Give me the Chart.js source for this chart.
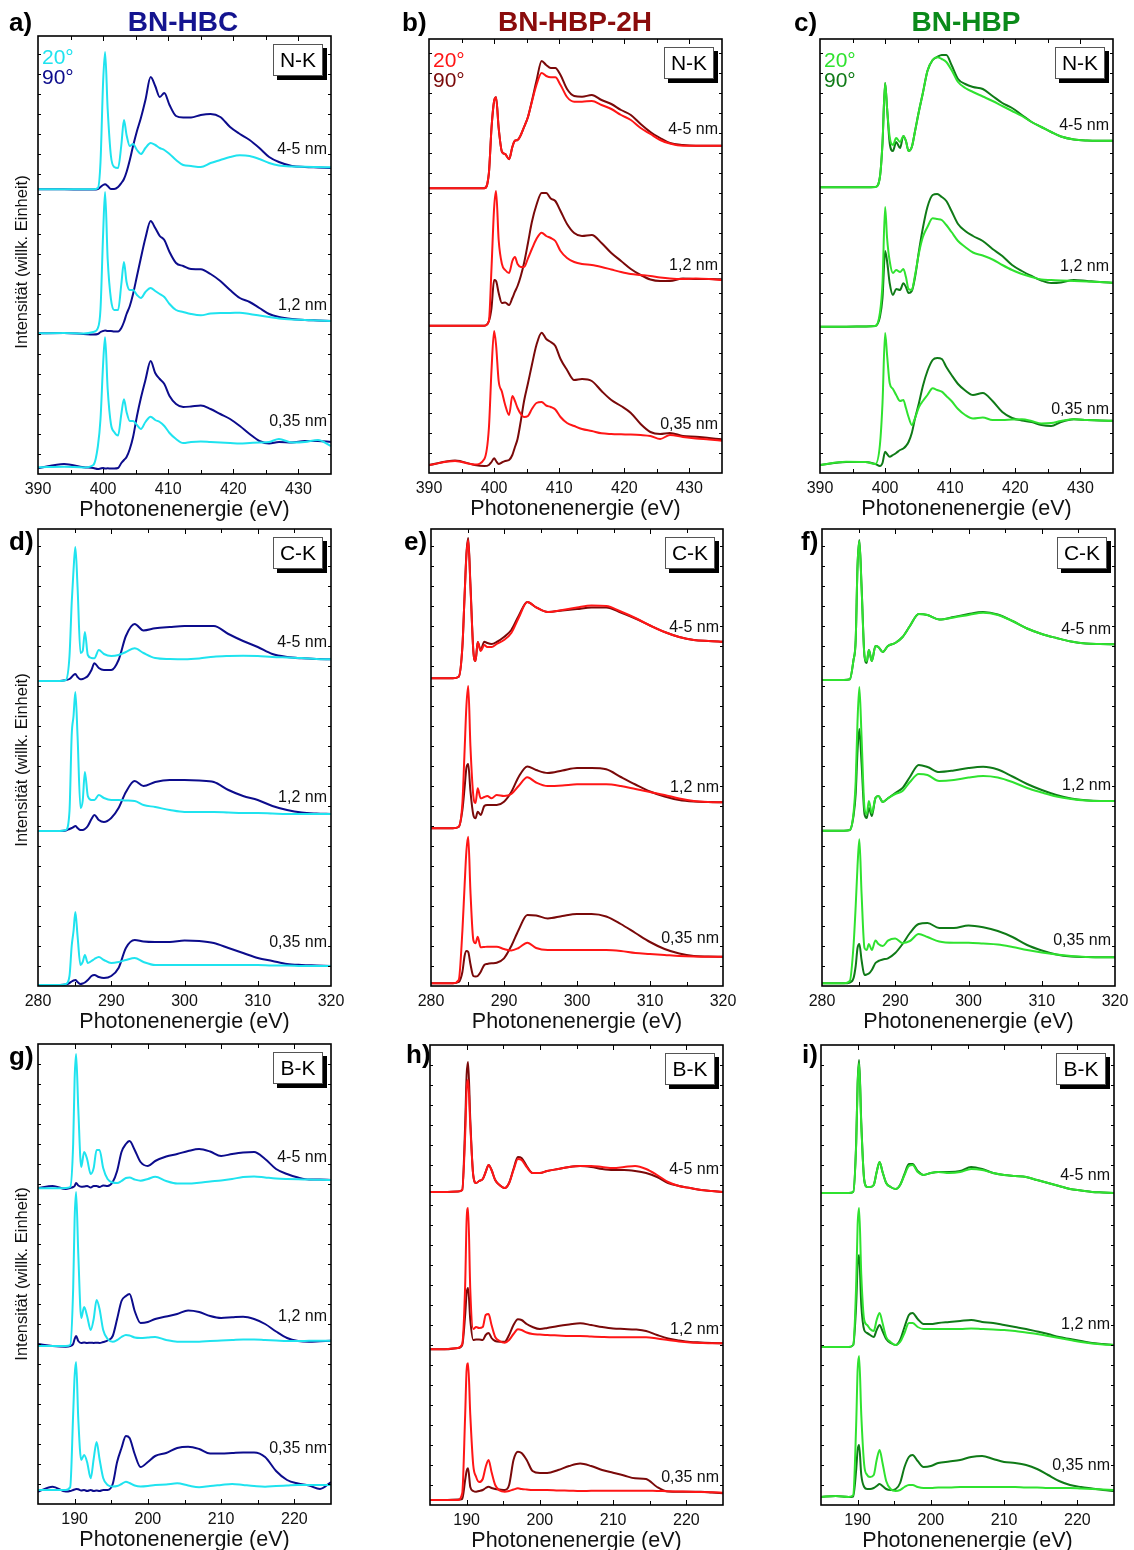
<!DOCTYPE html>
<html lang="de">
<head>
<meta charset="utf-8">
<title>NEXAFS BN-HBC / BN-HBP-2H / BN-HBP</title>
<script src="https://cdn.jsdelivr.net/npm/chart.js@4.4.1/dist/chart.umd.min.js"></script>
<style>
  body { margin: 0; background: #fff; font-family: "Liberation Sans", Arial, Helvetica, sans-serif; }
  #page { position: relative; width: 1134px; height: 1550px; overflow: hidden; background: #fff; }
  #page canvas, .txt { position: absolute; }
  .txt { line-height: 1; white-space: nowrap; color: #000; }
  .letter { font-weight: bold; font-size: 26px; }
  .title { font-weight: bold; font-size: 28px; transform: translateX(-50%); }
  .ytitle { font-size: 16.5px; transform: translate(-50%, -50%) rotate(-90deg); color: #111; }
  .angle { font-size: 21px; }
  .edge { background: #fff; border: 1px solid #555; box-shadow: 4px 4px 0 #000; font-size: 21px;
          width: 48px; height: 30px; line-height: 30px; text-align: center; }
</style>
</head>
<body>
<div id="page"></div>
<script>
// energy grids (eV) and tick labels for the three absorption edges
const nkEnergy = [390, 394, 397, 398.5, 399.2, 399.6, 400.0, 400.3, 400.7, 401.2, 401.7, 402.3, 402.8, 403.2, 403.6, 404.1, 404.6, 405.2, 405.8, 406.5, 407.3, 408.0, 408.7, 409.4, 410.2, 411.2, 412.3, 413.5, 415, 416.5, 418, 419.5, 421, 422.5, 424, 425.5, 427, 429, 431, 433, 435];
const ckEnergy = [280, 283, 283.8, 284.3, 284.6, 284.85, 285.1, 285.4, 285.8, 286.1, 286.4, 286.8, 287.3, 287.7, 288.3, 289, 290, 291, 292, 293.2, 294.4, 296, 298, 300, 302, 304, 306, 308, 310, 312, 314, 316, 318, 320];
const bkEnergy = [185, 187, 188.8, 189.4, 189.8, 190.0, 190.2, 190.5, 190.9, 191.3, 191.7, 192.2, 192.6, 193.0, 193.4, 193.9, 194.5, 195.2, 195.8, 196.4, 197.0, 197.5, 198.2, 199.0, 200, 201, 202.5, 204, 205.5, 207, 208.5, 210, 211.5, 213, 214.5, 216, 217.5, 219, 220.5, 222, 223.5, 225];
const nkTicks = [390, 400, 410, 420, 430];
const ckTicks = [280, 290, 300, 310, 320];
const bkTicks = [190, 200, 210, 220];
const thickness = ['4-5 nm', '1,2 nm', '0,35 nm'];

// BN-HBC, N-K edge (intensity incl. vertical offset, arb. units)
const hbcN45_20 = [284.7, 284.7, 284.7, 284.7, 286, 312, 392, 422, 365, 318, 307, 306, 329, 354, 339, 328, 330, 324, 320, 326, 331, 329, 326, 324, 320, 314, 309, 308, 307, 311, 314, 317, 318.7, 318, 315, 311, 308.5, 307.5, 307.3, 307, 306.7];
const hbcN45_90 = [284.7, 284.7, 284.5, 284.5, 285, 287, 289, 289.7, 288, 285, 285, 287, 291, 295, 302, 314, 328, 343, 356, 374, 397, 388, 377, 381, 369, 358, 356.5, 356.5, 359, 360, 357, 347, 340, 334, 326, 317, 312, 308, 307, 306.5, 306];
const hbcN12_20 = [140.7, 141, 140.5, 142, 146, 165, 240, 282, 215, 175, 164, 164, 190, 212, 192, 184, 184, 179, 176, 182, 186, 183, 180, 177, 170, 164, 162, 160, 158.7, 160.5, 161, 161, 161.3, 160, 158.5, 157, 155.5, 154.5, 154, 153.5, 153];
const hbcN12_90 = [140.7, 141, 140, 139.5, 140, 142, 143, 143.5, 143, 143, 142.5, 142.5, 146, 152, 160, 168, 180, 198, 216, 236, 253, 246, 238, 234, 222, 211, 208, 205, 204.7, 200, 193, 184, 176, 172, 166, 160, 157, 155, 154, 153.5, 153];
const hbcN035_20 = [6.7, 7.3, 6.5, 9, 28, 55, 110, 136.7, 85, 50, 42, 38.5, 60, 74.7, 62, 53, 53, 49, 45, 52, 57.3, 54, 52, 48, 41, 35, 31, 32, 32.5, 32, 31.5, 31, 30.5, 31, 31.5, 32, 35, 31.5, 32, 34, 28];
const hbcN035_90 = [5.7, 10, 6.7, 6, 5, 5.5, 6, 5.5, 5.7, 5.5, 5.5, 6, 11, 14, 17, 25, 37, 58, 76, 94, 113, 101, 95, 90, 78, 70, 67, 67.5, 68.5, 65, 60, 55, 48, 40, 33, 30.5, 32, 31.5, 33, 33, 32];

// BN-HBP-2H, N-K edge
const hbp2hN45_20 = [284.7, 284.7, 284.7, 284.7, 300, 345, 372, 375.7, 345, 321.3, 319, 313.7, 326, 332.3, 333, 338, 346, 356, 371, 388, 400, 397, 395.7, 395.7, 388, 376, 371.3, 371.3, 372, 368, 364, 358, 353, 345, 339, 333, 329.5, 327.3, 327.3, 327.3, 327.3];
const hbp2hN45_90 = [284.7, 284.7, 284.7, 284.7, 300, 345, 372, 375.7, 345, 321.3, 319, 313.7, 326, 332.3, 333, 338, 346, 356, 372, 392, 412, 408, 405, 405, 398, 384, 377, 376.3, 378, 373, 369, 363, 358, 349, 341, 335, 330, 328, 327.3, 327.3, 327.3];
const hbp2hN12_20 = [147.3, 147.3, 147.3, 147.3, 152, 205, 265, 282, 233, 209, 203, 200, 212, 216, 209, 206, 206, 214.7, 224, 234, 240.3, 237, 235, 232, 222, 215, 211, 209, 208, 206, 203.5, 201, 199, 198, 197, 195.5, 194.5, 194, 194.5, 194, 193];
const hbp2hN12_90 = [147.3, 147.3, 147.3, 147.3, 152, 165, 193, 192, 180, 170, 170.5, 168, 175, 181.3, 187, 197, 210, 230, 251, 268, 280, 280, 274.5, 272, 262, 249, 240, 237, 238, 230, 220, 212, 204, 198, 193.5, 192, 192, 194.5, 194, 194, 193.7];
const hbp2hN035_20 = [8, 12, 8.5, 14, 45, 103, 142, 128, 92, 81.3, 68, 58, 77, 72, 65, 59, 56, 57, 64, 70, 71, 67.5, 66, 63.5, 56, 50, 47, 44, 42, 39.7, 39, 38.7, 38.5, 38, 37, 34, 38, 36, 34.5, 33.5, 32.3];
const hbp2hN035_90 = [8, 12.5, 8, 7, 8, 11, 14.7, 12, 9, 10.5, 12, 13, 18, 26, 34, 52, 72, 89.7, 108, 128, 140.3, 134, 131, 127, 114, 103, 93, 94, 92, 82, 73, 67, 60, 49, 41, 39, 40, 37, 36.3, 35, 33.7];

// BN-HBP, N-K edge
const hbpN45_20 = [285.7, 285.7, 285.7, 286, 296, 330, 390, 365, 336, 328, 335, 331, 337, 332, 322, 326, 342, 362, 380, 402, 413, 415.7, 414, 411, 403, 391, 385, 381, 376.5, 372, 367, 362, 357, 351, 346, 341, 336.5, 333.5, 332.5, 332.3, 332.3];
const hbpN45_90 = [285.7, 285.7, 285.7, 286, 296, 330, 390, 365, 330, 322, 331, 325, 337, 332, 322, 326, 342, 362, 380, 402, 413, 416, 418, 418, 408, 394, 389, 386, 384, 377, 370, 365, 358, 351, 346, 341, 336.5, 333.5, 332.5, 332.3, 332.3];
const hbpN12_20 = [146.3, 146.3, 146.5, 147, 160, 190, 266, 235, 212, 200, 203, 201, 204, 196, 184, 183, 198, 220, 236, 246, 254.7, 254, 253, 248, 241, 232, 226, 220.5, 217.5, 213.5, 208, 203, 199, 196, 193.5, 193, 192.5, 192, 191.5, 191, 190.3];
const hbpN12_90 = [146.3, 146.3, 146.5, 147, 156, 175, 222, 212, 190, 178, 184, 183, 189.7, 186, 180, 182, 196, 222, 245, 266, 278, 279, 276, 272, 262, 249, 242, 237, 232, 224, 217, 208, 202, 197, 192.5, 190, 190.5, 193, 192, 191, 190.3];
const hbpN035_20 = [8, 11.3, 11, 9, 28, 70, 140, 118, 90, 84, 78, 72, 73, 65, 56, 48, 55, 66, 72, 78, 84.7, 83, 81.3, 77, 72, 64, 58, 54.5, 55.5, 53, 53, 53.5, 53.7, 52, 49.5, 50, 52, 53.7, 53, 52.5, 52.3];
const hbpN035_90 = [8, 11, 11, 9, 7, 10, 21.3, 19, 16.3, 18, 20, 23, 24.5, 27, 31, 40, 54.7, 70, 87, 102, 113, 115, 114, 106, 98, 89, 82.5, 78, 80, 72, 61, 55, 52.5, 51, 48, 47, 51, 53.7, 53, 52.5, 52.3];

// BN-HBC, C-K edge
const hbcC45_20 = [305, 305, 306, 330, 383, 416, 439, 399, 333, 335, 354, 331, 328, 327.7, 336, 332, 330, 331, 334, 337.7, 333, 328, 327, 326.7, 327.5, 329.3, 330, 330.3, 330, 329, 328.5, 328, 327, 326.7];
const hbcC45_90 = [305, 305, 306, 307, 309, 311, 312, 309, 306.7, 307, 308, 310, 316, 322.7, 318, 316, 316, 326, 350, 362, 355.5, 357.7, 359, 360, 360, 360, 352, 345, 339, 332, 329, 327.7, 327, 326.7];
const hbcC12_20 = [155, 155, 156, 175, 251, 270, 294, 250, 178, 185, 214, 190, 186, 186, 191, 188, 186, 186, 185.5, 185, 181, 179, 176, 174, 174, 174, 173.5, 173, 173, 172.5, 172, 172, 172, 172];
const hbcC12_90 = [155, 155, 155.5, 157, 158, 159, 160, 158, 156, 156, 157, 160, 167, 171, 166, 164, 168, 178, 194, 205, 200, 204, 206, 206, 205.5, 204, 196, 190, 186, 180, 176, 173.5, 172.5, 172];
const hbcC035_20 = [1, 1, 2, 10, 40, 55, 74, 50, 21, 24, 31, 23, 25, 27, 29, 26, 23, 24, 26, 28, 24, 21, 21, 21, 21, 21, 21, 21, 21, 20.5, 20.5, 20, 20, 20];
const hbcC035_90 = [1, 1, 1.5, 3, 4.5, 5.5, 6, 4, 2, 2.5, 3.5, 6, 10, 11, 9, 8, 10, 18, 38, 46, 44.5, 44, 44, 45.5, 45, 43, 38, 33, 28, 25, 22, 21, 20.5, 20];

// BN-HBP-2H, C-K edge
const hbp2hC45_20 = [307.7, 307.7, 309.3, 339.3, 390, 430, 446, 400, 335, 325, 344, 335, 341, 339, 339, 342, 346, 353, 368, 384, 378.7, 374, 376, 378.5, 380.5, 380, 374.5, 368, 360.5, 354, 349, 346, 345, 344.3];
const hbp2hC45_90 = [307.7, 307.7, 309.3, 339.3, 390, 432, 448, 402, 335, 325, 344, 336, 344.3, 343, 342, 344, 349, 356, 370, 384, 378.7, 374, 375.5, 377, 378.5, 378.5, 373.5, 367.5, 360.5, 354, 349, 346, 345, 344.3];
const hbp2hC12_20 = [157.7, 157.7, 159.3, 183, 235, 280, 300, 240, 190, 183, 197.7, 187.7, 189, 190, 187.7, 191, 190, 192, 200, 208.7, 203.5, 200, 200.5, 201.7, 201.7, 201.7, 200, 197, 194, 191, 187.5, 185, 184, 183.7];
const hbp2hC12_90 = [157.7, 157.7, 159, 176, 198, 218, 222, 195, 171, 167.7, 174.3, 171, 180, 181, 181, 181, 184.3, 194, 209, 219.5, 216, 213, 215.5, 218, 218, 216.7, 209, 201.5, 194.5, 189.5, 186, 184.5, 184, 183.7];
const hbp2hC035_20 = [2.7, 2.7, 6, 55, 100, 135, 149.3, 95, 46, 42.7, 49.3, 38.7, 39, 39.3, 39.3, 39.3, 37, 35.5, 38, 43.3, 38, 36, 36, 36, 36, 36, 35, 33, 32, 31, 30, 29.5, 29.3, 29.3];
const hbp2hC035_90 = [2.7, 2.7, 4, 14, 30, 35, 34, 22, 10, 9.5, 10, 14, 21, 22, 22.7, 23.3, 27.7, 40, 56, 71, 70.5, 67.5, 70, 72, 72, 69.5, 62, 53, 44, 37, 32.5, 30, 29.5, 29.3];

// BN-HBP, C-K edge
const hbpC45_20 = [306, 306, 306.7, 326, 346, 420, 445, 399, 330, 325, 336, 325, 340, 339, 334, 340, 343, 349, 360, 372, 371, 366.5, 368.5, 371, 373.3, 371, 365, 357.5, 352, 348, 344.5, 342.5, 342, 341.7];
const hbpC45_90 = [306, 306, 306.7, 326, 346, 420, 446, 400, 330, 323, 336, 325, 340, 339, 334, 340, 343, 349, 360, 372, 371, 366.5, 369, 372, 374, 371.5, 365, 357.5, 352, 348, 344.5, 342.5, 342, 341.7];
const hbpC12_20 = [155.3, 155.3, 156, 172.7, 205, 265, 299, 249, 178, 172, 185, 173, 188, 190, 184, 187.7, 192, 195, 204, 212, 211, 205, 206, 208.5, 210, 208.5, 204, 198, 193.5, 189.5, 187, 185.5, 185, 185];
const hbpC12_90 = [155.3, 155.3, 156, 170, 192, 235, 257, 222.7, 172, 168, 178, 170, 188, 190, 184, 187.7, 193, 198, 209, 221, 219, 214, 215.5, 218, 219.3, 216.5, 209.5, 202, 196, 191, 187.5, 185.7, 185, 185];
const hbpC035_20 = [2.7, 2.7, 5, 40, 80, 120, 146.7, 92.7, 38, 36, 42, 36, 45.5, 42, 40, 45.3, 47.5, 43, 45, 52, 49, 44.5, 43.3, 43.3, 42.5, 41.5, 39, 36, 33.5, 31.5, 30, 29, 28.7, 28.7];
const hbpC035_90 = [2.7, 2.7, 3.5, 7.7, 20, 38, 42, 26, 11, 11.5, 12.5, 16, 23, 25, 26.5, 27.7, 33, 42, 53, 62, 63, 58, 58, 60.5, 58.7, 55, 49, 41, 35.5, 31.5, 29.5, 29, 28.7, 28.7];

// BN-HBC, B-K edge
const hbcB45_20 = [315.7, 315.7, 316, 317, 360, 425, 450, 395, 337, 352, 345, 330, 336, 354, 354, 336, 325, 321.5, 321, 323, 326, 326.5, 324.5, 323.3, 325, 327.3, 323, 320.5, 320.5, 321.3, 322.5, 323.5, 325, 327, 327.5, 326.5, 325.5, 325, 324.7, 324.5, 324.2, 324];
const hbcB45_90 = [316, 318, 315, 316, 317, 318, 321, 318.5, 317.3, 317.5, 318, 316.5, 318, 318, 317, 318.5, 318, 322, 333, 352, 360, 363, 354, 342, 338, 343, 347.5, 350, 353, 355, 352.5, 348, 350, 351.5, 352, 345, 335, 330, 326.5, 324.5, 324.5, 324];
const hbcB12_20 = [158, 158, 158, 159, 215, 285, 312, 250, 186, 197, 188, 174, 185, 204, 195, 174, 165, 162.3, 164, 167, 169, 168.5, 166.5, 166, 166.5, 167, 164, 162.3, 162.3, 162.3, 163, 163.5, 164, 164.5, 164.5, 164, 163.5, 163, 163, 163.2, 163.3, 163.3];
const hbcB12_90 = [160, 158, 157.3, 158, 160, 165, 168, 163, 161, 161.5, 161, 161.3, 161, 161.3, 161, 162, 163.5, 168, 185, 203, 208, 210, 193, 181, 182, 185, 187.5, 190, 193.5, 192, 188, 186, 186.7, 187.3, 185, 180, 172.5, 166, 163, 162.3, 162.8, 163.3];
const hbcB035_20 = [14, 14, 14, 17, 90, 128, 142, 85, 44, 49, 42, 25.7, 45, 62, 45, 26, 19, 17.5, 18, 20, 22.3, 21, 18.5, 17.5, 18, 19, 19.5, 20.7, 18.5, 16.7, 18, 19, 20, 19, 18, 17.3, 18, 18.5, 19, 19, 19, 19];
const hbcB035_90 = [12.3, 17.3, 12.5, 13, 14, 14.5, 15, 14.7, 13.5, 14, 13, 14, 13, 13.5, 13, 14, 14, 20, 42, 56, 68, 66, 50, 37, 42, 48, 51, 56, 57.3, 55, 50.5, 50.5, 51, 51.5, 51.5, 47, 33, 24, 20.5, 18.5, 15, 22];

// BN-HBP-2H, B-K edge
const hbp2hB45_20 = [313, 313, 313.5, 315, 370, 415, 425, 380, 330, 322, 324, 326, 333, 340, 335, 325, 320, 317, 322, 335, 346, 345, 338, 332, 332, 334, 336, 338, 339, 339, 338, 337, 338, 339, 336, 330, 323, 319, 317, 315, 314, 313];
const hbp2hB45_90 = [313, 313, 313.5, 315, 380, 430, 443, 385, 330, 322, 324, 326, 333, 340, 335, 325, 320, 317, 322, 336, 348, 347, 339, 332, 332, 334, 336, 338, 339, 338, 336, 335, 335, 334, 332, 328, 322, 319, 317, 315, 314, 313];
const hbp2hB12_20 = [155.7, 155.7, 157, 161, 220, 285, 297, 215, 176, 178, 177, 178, 190, 191, 180, 168, 164, 162.3, 165, 171, 175.7, 175, 172.5, 171, 170.5, 170, 169.5, 169, 169, 168.5, 168, 167.7, 167.7, 167.7, 167.7, 166.5, 165, 163.5, 162.5, 162, 161.7, 161.7];
const hbp2hB12_90 = [155.7, 155.7, 157, 160, 190, 212, 217, 185, 165, 165.5, 165.5, 165, 170, 172, 167, 164, 163.3, 163.3, 170, 180, 185.7, 185, 181, 178, 176, 177, 179, 180.5, 181.7, 180, 178, 176.5, 176, 175.5, 174, 170, 166.5, 164.5, 163, 162.5, 162, 161.7];
const hbp2hB035_20 = [5, 5, 5, 11.7, 90, 135, 141.7, 90, 40, 28, 23, 26, 38, 45, 33, 20, 14.5, 13.3, 14, 15.5, 16.7, 16, 15.5, 15, 15, 15, 14.5, 14.3, 14, 14.2, 14.3, 14.3, 14.3, 14.3, 14.3, 14, 13.8, 13.5, 13.2, 13, 12.7, 12.3];
const hbp2hB035_90 = [5, 5, 5.5, 6, 25, 34, 36.7, 18, 14, 13.3, 14, 15, 17, 18.3, 17, 16, 15.5, 15, 20, 45, 53.3, 52, 45, 34, 32, 32, 35, 39, 41.5, 39, 35, 32.3, 29.5, 26.7, 26, 18, 13.5, 13.3, 13.3, 13.3, 12.5, 11.7];

// BN-HBP, B-K edge
const hbpB45_20 = [312, 312, 312, 313, 360, 420, 442, 380, 325, 318, 318, 320, 333, 343, 333, 322, 318, 316, 320, 330, 339, 340, 333, 330, 332, 333, 332, 333, 336, 335, 332, 330, 329, 328, 325, 322, 319, 316, 314.5, 313, 312.5, 312];
const hbpB45_90 = [312, 312, 312, 313, 362, 422, 445, 382, 325, 318, 318, 320, 333, 343, 333, 322, 318, 316, 320, 331, 341, 341, 334, 330, 332, 333, 333, 334, 338, 336, 332, 330, 329, 328, 325, 322, 319, 316, 314.5, 313, 312.5, 312];
const hbpB12_20 = [158, 158, 158, 160, 220, 280, 297, 230, 185, 180, 176, 174, 185, 192, 182, 168, 163, 160, 163, 172, 182, 182, 178, 176, 176, 176, 176, 176, 176.5, 176, 175.5, 175, 174, 172.5, 171, 169, 167, 165, 163, 161.5, 160.5, 160];
const hbpB12_90 = [158, 158, 158, 160, 200, 240, 250, 200, 175, 172, 170, 168, 175, 180, 174, 166, 162, 160, 165, 178, 190, 192, 186, 181, 181, 182, 183, 184, 185, 183, 182, 180, 178, 176, 173.5, 171, 168, 166, 164, 162, 161, 160];
const hbpB035_20 = [8, 9, 8, 10, 80, 135, 149, 90, 40, 30, 28, 30, 45, 55, 42, 24, 16, 14, 15, 18, 20, 20, 18, 17, 17, 17.5, 17.5, 18, 18, 18, 18, 18, 18, 17.5, 17.5, 17, 17, 17, 16.5, 16, 15.5, 15];
const hbpB035_90 = [8, 9, 8, 8.5, 35, 55, 60, 30, 18, 16, 16, 17, 19, 21, 19, 16, 15, 16, 22, 38, 48, 50, 44, 38, 39, 42, 43.5, 45, 48, 49, 46, 43, 42, 40, 36, 30, 24, 20, 18, 16.5, 15, 14];

const FONT = '"Liberation Sans", Arial, Helvetica, sans-serif';
const hbcColors = ['#1fe3ef', '#0c0c8c'];
const hbp2hColors = ['#ff1616', '#7a0909'];
const hbpColors = ['#2fe22f', '#0f7a17'];

// plot boxes are [left, top, right, bottom] in page pixels
const panels = [
  { letter: 'a)', at: [9, 22], edge: 'N-K', energy: nkEnergy, ticks: nkTicks, box: [38, 36, 331, 474], colors: hbcColors,
    curves: [[hbcN45_20, hbcN45_90], [hbcN12_20, hbcN12_90], [hbcN035_20, hbcN035_90]], tagY: [324, 168, 52], legend: true },
  { letter: 'b)', at: [402, 22], edge: 'N-K', energy: nkEnergy, ticks: nkTicks, box: [429, 39, 722, 473], colors: hbp2hColors,
    curves: [[hbp2hN45_20, hbp2hN45_90], [hbp2hN12_20, hbp2hN12_90], [hbp2hN035_20, hbp2hN035_90]], tagY: [343, 207, 48], legend: true },
  { letter: 'c)', at: [794, 22], edge: 'N-K', energy: nkEnergy, ticks: nkTicks, box: [820, 39, 1113, 473], colors: hbpColors,
    curves: [[hbpN45_20, hbpN45_90], [hbpN12_20, hbpN12_90], [hbpN035_20, hbpN035_90]], tagY: [347, 206, 63], legend: true },
  { letter: 'd)', at: [9, 541], edge: 'C-K', energy: ckEnergy, ticks: ckTicks, box: [38, 529, 331, 986], colors: hbcColors,
    curves: [[hbcC45_20, hbcC45_90], [hbcC12_20, hbcC12_90], [hbcC035_20, hbcC035_90]], tagY: [343, 188, 43] },
  { letter: 'e)', at: [404, 541], edge: 'C-K', energy: ckEnergy, ticks: ckTicks, box: [431, 529, 723, 986], colors: hbp2hColors,
    curves: [[hbp2hC45_20, hbp2hC45_90], [hbp2hC12_20, hbp2hC12_90], [hbp2hC035_20, hbp2hC035_90]], tagY: [358, 198, 47] },
  { letter: 'f)', at: [801, 541], edge: 'C-K', energy: ckEnergy, ticks: ckTicks, box: [822, 529, 1115, 986], colors: hbpColors,
    curves: [[hbpC45_20, hbpC45_90], [hbpC12_20, hbpC12_90], [hbpC035_20, hbpC035_90]], tagY: [356, 200, 45] },
  { letter: 'g)', at: [9, 1056], edge: 'B-K', energy: bkEnergy, ticks: bkTicks, box: [38, 1044, 331, 1504], colors: hbcColors,
    curves: [[hbcB45_20, hbcB45_90], [hbcB12_20, hbcB12_90], [hbcB035_20, hbcB035_90]], tagY: [346, 187, 55] },
  { letter: 'h)', at: [406, 1054], edge: 'B-K', energy: bkEnergy, ticks: bkTicks, box: [430, 1045, 723, 1505], colors: hbp2hColors,
    curves: [[hbp2hB45_20, hbp2hB45_90], [hbp2hB12_20, hbp2hB12_90], [hbp2hB035_20, hbp2hB035_90]], tagY: [335, 175, 27] },
  { letter: 'i)', at: [802, 1054], edge: 'B-K', energy: bkEnergy, ticks: bkTicks, box: [821, 1045, 1114, 1505], colors: hbpColors,
    curves: [[hbpB45_20, hbpB45_90], [hbpB12_20, hbpB12_90], [hbpB035_20, hbpB035_90]], tagY: [329, 180, 39] }
];

const columnTitles = [
  { text: 'BN-HBC', x: 183, color: '#14148f' },
  { text: 'BN-HBP-2H', x: 575, color: '#8a0c0c' },
  { text: 'BN-HBP', x: 966, color: '#0b8a1a' }
];
const yTitleRows = [262, 760, 1274];

const PAD_L = 22, PAD_R = 22, PAD_T = 6, AXIS_H = 49;
const page = document.getElementById('page');

// closed frame, inward ticks on all four sides and the thickness tags
const framePlugin = {
  id: 'frame',
  afterDatasetsDraw(chart, args, opts) {
    const { ctx, chartArea: a, scales: { x, y } } = chart;
    ctx.save();
    ctx.strokeStyle = '#000';
    ctx.lineWidth = 1;
    for (let v = Math.ceil(x.min / 5) * 5; v < x.max; v += 5) {
      if (v <= x.min) continue;
      const px = Math.round(x.getPixelForValue(v)) + 0.5;
      const len = v % 10 === 0 ? 5 : 4;
      ctx.beginPath();
      ctx.moveTo(px, a.bottom); ctx.lineTo(px, a.bottom - len);
      ctx.moveTo(px, a.top); ctx.lineTo(px, a.top + len);
      ctx.stroke();
    }
    for (let v = 20; v < y.max; v += 20) {
      const py = Math.round(y.getPixelForValue(v)) + 0.5;
      ctx.beginPath();
      ctx.moveTo(a.left, py); ctx.lineTo(a.left + 3, py);
      ctx.moveTo(a.right, py); ctx.lineTo(a.right - 3, py);
      ctx.stroke();
    }
    ctx.lineWidth = 1.6;
    ctx.strokeRect(a.left, a.top, a.right - a.left, a.bottom - a.top);

    ctx.font = '16px ' + FONT;
    ctx.fillStyle = '#111';
    ctx.textAlign = 'right';
    ctx.textBaseline = 'middle';
    opts.tagY.forEach((v, i) => ctx.fillText(thickness[i], a.right - 4, y.getPixelForValue(v)));
    ctx.restore();
  }
};

function addText(cls, text, left, top, color) {
  const d = document.createElement('div');
  d.className = 'txt ' + cls;
  d.textContent = text;
  d.style.left = left + 'px';
  d.style.top = top + 'px';
  if (color) d.style.color = color;
  page.appendChild(d);
  return d;
}

panels.forEach(p => {
  const [l, t, r, b] = p.box;
  const w = r - l, h = b - t;
  const cv = document.createElement('canvas');
  cv.width = w + PAD_L + PAD_R;
  cv.height = h + PAD_T + AXIS_H;
  cv.style.width = cv.width + 'px';
  cv.style.height = cv.height + 'px';
  cv.style.left = (l - PAD_L) + 'px';
  cv.style.top = (t - PAD_T) + 'px';
  page.appendChild(cv);

  // 20° curves first so they are drawn on top of the 90° ones
  const datasets = [];
  [0, 1].forEach(k => {
    p.curves.forEach(pair => {
      datasets.push({
        data: p.energy.map((e, i) => ({ x: e, y: pair[k][i] })),
        borderColor: p.colors[k],
        borderWidth: 2,
        pointRadius: 0,
        cubicInterpolationMode: 'monotone',
        fill: false
      });
    });
  });

  new Chart(cv, {
    type: 'line',
    data: { datasets },
    options: {
      responsive: false,
      animation: false,
      devicePixelRatio: 1,
      layout: { padding: { left: PAD_L, right: PAD_R, top: PAD_T, bottom: 0 } },
      plugins: { legend: { display: false }, tooltip: { enabled: false }, frame: { tagY: p.tagY } },
      scales: {
        x: {
          type: 'linear',
          min: p.energy[0],
          max: p.energy[p.energy.length - 1],
          grid: { display: false, drawTicks: false },
          border: { display: false },
          afterBuildTicks: s => { s.ticks = p.ticks.map(v => ({ value: v })); },
          afterFit: s => { s.height = AXIS_H; },
          ticks: { padding: 6, color: '#111', maxRotation: 0, font: { size: 16, family: FONT } },
          title: { display: true, text: 'Photonenenergie (eV)', color: '#111', padding: 0, font: { size: 21.5, family: FONT } }
        },
        y: { display: false, min: 0, max: h }
      }
    },
    plugins: [framePlugin]
  });

  addText('letter', p.letter, p.at[0], p.at[1] - 13);
  addText('edge', p.edge, r - 58, t + 8);
  if (p.legend) {
    addText('angle', '20°', l + 4, t + 10, p.colors[0]);
    addText('angle', '90°', l + 4, t + 30, p.colors[1]);
  }
});

columnTitles.forEach(c => addText('title', c.text, c.x, 8, c.color));
yTitleRows.forEach(cy => addText('ytitle', 'Intensität (willk. Einheit)', 21, cy));
</script>
</body>
</html>
